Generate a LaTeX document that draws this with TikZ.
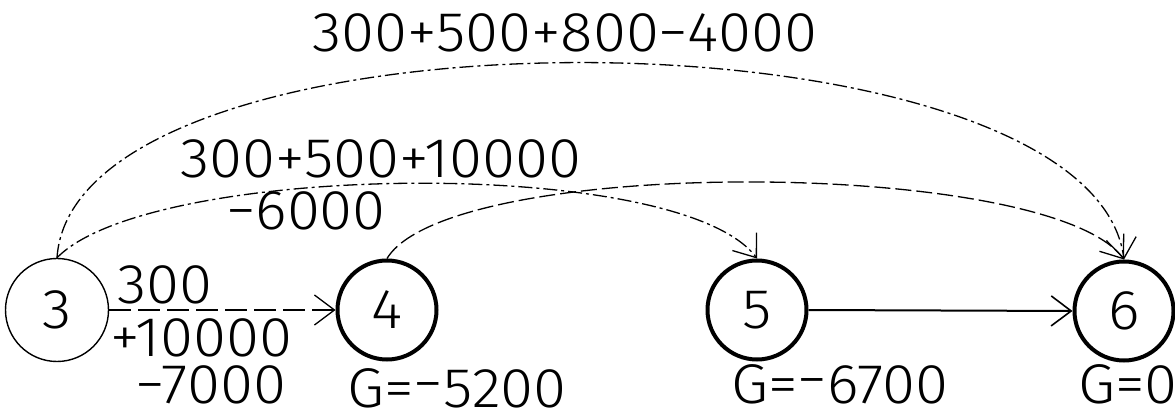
\documentclass[tikz,border=0pt]{standalone}
\usepackage{fontspec}
\setmainfont{Fira Sans}[UprightFont=* Light, FakeStretch=1.07]
\usetikzlibrary{arrows.meta}
\newcommand{\rminus}{\raisebox{5pt}{−}}
\begin{document}
\begin{tikzpicture}[x=1pt,y=-1pt,
  every node/.style={font=\fontsize{56}{62}\selectfont, inner sep=0pt},
  lbl/.style={inner sep=0pt},
  statethin/.style={circle, draw, line width=1.4pt, minimum size=103pt, inner sep=0pt},
  statebold/.style={circle, draw, line width=4pt, minimum size=99pt, inner sep=0pt},
  barb/.style={-{Straight Barb[length=20pt,width=30pt,line width=1.3pt]}},
  arcline/.style={barb, line width=1.3pt, dash pattern=on 14pt off 4pt on 3pt off 4pt},
  arcdash/.style={barb, line width=1.3pt, dash pattern=on 16pt off 5pt},
  straightdash/.style={barb, line width=1.3pt, dash pattern=on 22pt off 7pt},
  solidedge/.style={-{Straight Barb[length=20pt,width=30pt,line width=1.6pt]}, line width=2pt}
]
\useasboundingbox (0,0) rectangle (1175,411);

% nodes
\node[statethin] (n3) at (57,310) {3};
\node[statebold] (n4) at (387,310) {4};
\node[statebold] (n5) at (757,310) {5};
\node[statebold] (n6) at (1124,311) {6};

% connectors
\draw[arcline] (n3.north) .. controls (75,-5) and (1090,0) .. (n6.north);
\draw[arcline] (n3.north) .. controls (150,162) and (680,155) .. (n5.north);
\draw[arcdash] (n4.north) .. controls (450,155) and (1050,158) .. (n6.north);
\draw[straightdash] (n3.east) -- (n4.west);
\draw[solidedge] (n5.east) -- (n6.west);

% labels
\node[lbl] (tA) at (565,33) {300+500+800−4000};
\node[lbl] (tB1) at (381,159) {300+500+10000};
\node[lbl] (tB2) at (306,211) {−6000};
\node[lbl] (t34a) at (165,285) {300};
\node[lbl] (t34b) at (201,338) {+10000};
\node[lbl] (t34c) at (211,385) {−7000};
\node[lbl] (g4) at (457,388) {G=\rminus5200};
\node[lbl] (g5) at (840,384) {G=\rminus6700};
\node[lbl] (g6) at (1128,384) {G=0};
\end{tikzpicture}
\end{document}
